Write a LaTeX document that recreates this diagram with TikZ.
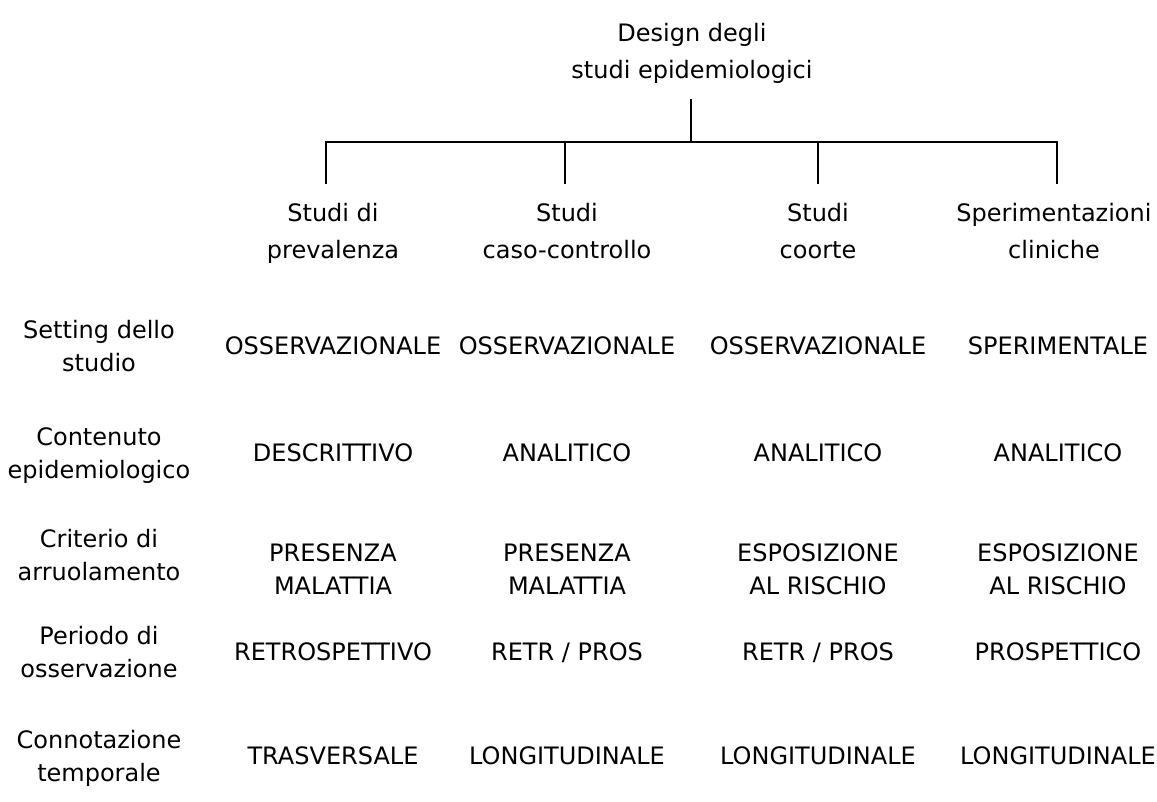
\documentclass[tikz,border=0pt]{standalone}
\usepackage{fontspec}
\setmainfont{DejaVu Sans}
\tikzset{
  txt/.style={inner sep=0pt, align=center, font=\fontsize{24}{33}\selectfont},
  hdr/.style={inner sep=0pt, align=center, font=\fontsize{24}{37}\selectfont},
  ln/.style={line width=2pt, line cap=rect}
}
\newcommand{\sr}{\strut}
\begin{document}
\begin{tikzpicture}[x=1pt,y=-1pt]
\useasboundingbox (0,0) rectangle (1157,801);
% title
\node[hdr] (t) at (692,53) {\sr Design degli\\\sr studi epidemiologici};
% headers
\node[hdr] (h1) at (333,233) {\sr Studi di\\\sr prevalenza};
\node[hdr] (h2) at (567,233) {\sr Studi\\\sr caso-controllo};
\node[hdr] (h3) at (818,233) {\sr Studi\\\sr coorte};
\node[hdr] (h4) at (1054,233) {\sr Sperimentazioni\\\sr cliniche};
% tree connectors
\coordinate (top) at (691,100);
\coordinate (j) at (691,142);
\coordinate (b1) at (326,142);
\coordinate (b2) at (565,142);
\coordinate (b3) at (818,142);
\coordinate (b4) at (1057,142);
\coordinate (e1) at (326,183);
\coordinate (e2) at (565,183);
\coordinate (e3) at (818,183);
\coordinate (e4) at (1057,183);
\draw[ln] (top) -- (j);
\draw[ln] (b1) -- (b4);
\draw[ln] (b1) -- (e1);
\draw[ln] (b2) -- (e2);
\draw[ln] (b3) -- (e3);
\draw[ln] (b4) -- (e4);
% row labels
\node[txt] (r1) at (99,348) {\sr Setting dello\\\sr studio};
\node[txt] (r2) at (99,455) {\sr Contenuto\\\sr epidemiologico};
\node[txt] (r3) at (99,557) {\sr Criterio di\\\sr arruolamento};
\node[txt] (r4) at (99,654) {\sr Periodo di\\\sr osservazione};
\node[txt] (r5) at (99,758) {\sr Connotazione\\\sr temporale};
% row 1
\node[txt] (v11) at (333,348) {\sr OSSERVAZIONALE};
\node[txt] (v12) at (567,348) {\sr OSSERVAZIONALE};
\node[txt] (v13) at (818,348) {\sr OSSERVAZIONALE};
\node[txt] (v14) at (1058,348) {\sr SPERIMENTALE};
% row 2
\node[txt] (v21) at (333,455) {\sr DESCRITTIVO};
\node[txt] (v22) at (567,455) {\sr ANALITICO};
\node[txt] (v23) at (818,455) {\sr ANALITICO};
\node[txt] (v24) at (1058,455) {\sr ANALITICO};
% row 3
\node[txt] (v31) at (333,571) {\sr PRESENZA\\\sr MALATTIA};
\node[txt] (v32) at (567,571) {\sr PRESENZA\\\sr MALATTIA};
\node[txt] (v33) at (818,571) {\sr ESPOSIZIONE\\\sr AL RISCHIO};
\node[txt] (v34) at (1058,571) {\sr ESPOSIZIONE\\\sr AL RISCHIO};
% row 4
\node[txt] (v41) at (333,654) {\sr RETROSPETTIVO};
\node[txt] (v42) at (567,654) {\sr RETR / PROS};
\node[txt] (v43) at (818,654) {\sr RETR / PROS};
\node[txt] (v44) at (1058,654) {\sr PROSPETTICO};
% row 5
\node[txt] (v51) at (333,758) {\sr TRASVERSALE};
\node[txt] (v52) at (567,758) {\sr LONGITUDINALE};
\node[txt] (v53) at (818,758) {\sr LONGITUDINALE};
\node[txt] (v54) at (1058,758) {\sr LONGITUDINALE};
\end{tikzpicture}
\end{document}
